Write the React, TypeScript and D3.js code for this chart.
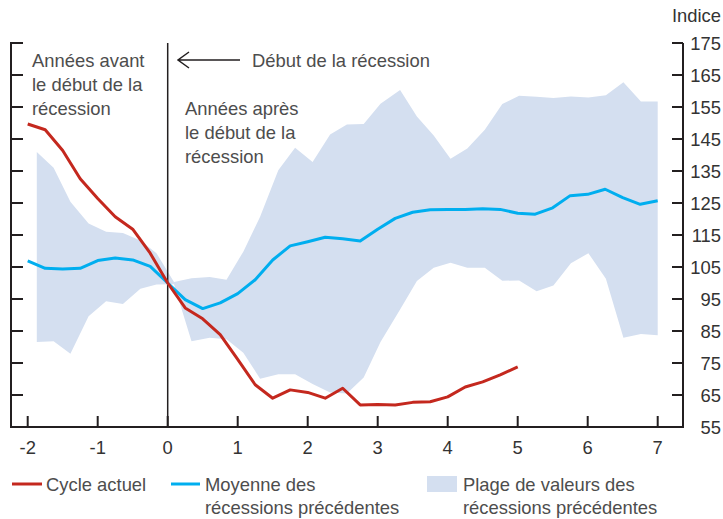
import * as d3 from 'd3';

// Quarterly observations, years relative to the start of the recession
const quarterX = d3.range(0, 37).map((i) => -2 + i * 0.25);

const currentCycle = [
  149.7, 147.9, 141.4, 132.6, 126.4, 120.7, 116.8, 109.3, 100,
  92.2, 88.8, 83.9, 76.1, 68.2, 64.0, 66.6, 65.8, 64.0, 67.1,
  61.9, 62.0, 61.9, 62.7, 62.9, 64.4, 67.5, 69.1, 71.3, 73.8,
];

const pastAverage = [
  106.9, 104.6, 104.4, 104.6, 107.0, 107.8, 107.2, 105.2, 100,
  94.8, 92.0, 93.8, 96.7, 101.0, 107.2, 111.6, 112.9, 114.3, 113.8,
  113.1, 116.8, 120.2, 122.1, 122.9, 123.0, 123.0, 123.2, 123.0, 121.8,
  121.5, 123.5, 127.3, 127.7, 129.3, 126.7, 124.6, 125.7,
];

const bandX = [
  -1.87, -1.63, -1.39, -1.13, -0.88, -0.64, -0.39, -0.16, 0.09,
  0.34, 0.6, 0.84, 1.08, 1.32, 1.58, 1.82, 2.07, 2.32, 2.56,
  2.8, 3.04, 3.32, 3.56, 3.8, 4.04, 4.28, 4.53, 4.78, 5.02,
  5.27, 5.51, 5.76, 6.01, 6.26, 6.51, 6.76, 7.0,
];
const bandHigh = [
  140.9, 136.0, 125.4, 118.6, 116.0, 115.6, 113.3, 109.3, 100.3,
  101.5, 101.9, 101.0, 109.8, 120.7, 135.2, 142.3, 137.8, 146.4, 149.5,
  149.7, 156.0, 160.3, 152.0, 146.1, 138.8, 142.0, 147.9, 155.9, 158.5,
  158.2, 157.8, 158.3, 158.0, 158.7, 162.7, 156.7, 156.7,
];
const bandLow = [
  81.6, 81.8, 77.9, 89.6, 94.3, 93.4, 98.2, 99.5, 99.6,
  81.8, 82.9, 82.4, 78.2, 70.1, 71.5, 71.5, 68.4, 65.8, 65.5,
  70.5, 81.6, 91.7, 100.6, 104.8, 106.3, 104.8, 104.8, 100.7, 100.8,
  97.4, 99.2, 106.2, 109.3, 101.3, 82.9, 84.1, 83.7,
];

const xTicks = [-2, -1, 0, 1, 2, 3, 4, 5, 6, 7];
const yTicks = [55, 65, 75, 85, 95, 105, 115, 125, 135, 145, 155, 165, 175];

const RED = '#c4281e';
const BLUE = '#00aeef';
const BAND = '#d4dff0';
const INK = '#231f20';
const TEXT = '#4d4d4d';
const FONT = '"Liberation Sans", Arial, sans-serif';

const W = 723;
const H = 519;
const FRAME = { left: 11, right: 683, top: 43, bottom: 427 };

export default function App() {
  const x = d3.scaleLinear().domain([-2, 7]).range([27.7, 657.7]);
  const y = d3.scaleLinear().domain([55, 175]).range([FRAME.bottom, FRAME.top]);

  const line = d3
    .line<number>()
    .x((_, i) => x(quarterX[i]))
    .y((d) => y(d));

  const area = d3
    .area<number>()
    .x((_, i) => x(bandX[i]))
    .y0((_, i) => y(bandLow[i]))
    .y1((d) => y(d));

  const textStyle = { fontFamily: FONT, fontSize: 18.4, fill: TEXT };

  return (
    <svg
      width={W}
      height={H}
      style={{ position: 'absolute', left: 0, top: 0, background: '#fff' }}
    >
      {/* range of past recessions */}
      <path d={area(bandHigh) ?? ''} fill={BAND} />

      {/* recession start marker */}
      <line x1={x(0)} x2={x(0)} y1={FRAME.top} y2={FRAME.bottom} stroke={INK} strokeWidth={1.5} />

      <path d={line(pastAverage) ?? ''} fill="none" stroke={BLUE} strokeWidth={3} strokeLinejoin="round" />
      <path d={line(currentCycle) ?? ''} fill="none" stroke={RED} strokeWidth={3} strokeLinejoin="round" />

      {/* frame: left axis, bottom axis, right axis */}
      <path
        d={`M${FRAME.left + 12},${FRAME.top}H${FRAME.left}V${FRAME.bottom}H${FRAME.right}V${FRAME.top}`}
        fill="none"
        stroke={INK}
        strokeWidth={2}
      />
      {yTicks.map((t) => (
        <g key={t}>
          <line x1={FRAME.left} x2={FRAME.left + 12} y1={y(t)} y2={y(t)} stroke={INK} strokeWidth={2} />
          <line x1={FRAME.right - 11} x2={FRAME.right} y1={y(t)} y2={y(t)} stroke={INK} strokeWidth={2} />
          <text x={721} y={y(t)} dy="0.36em" textAnchor="end" {...textStyle} fill="#333">
            {t}
          </text>
        </g>
      ))}
      {xTicks.map((t) => (
        <g key={t}>
          <line x1={x(t)} x2={x(t)} y1={FRAME.bottom} y2={FRAME.bottom - 11} stroke={INK} strokeWidth={2} />
          <text x={x(t)} y={447} dy="0.36em" textAnchor="middle" {...textStyle} fill="#333">
            {t}
          </text>
        </g>
      ))}
      <text x={721} y={15} dy="0.36em" textAnchor="end" {...textStyle} fill="#333">
        Indice
      </text>

      {/* annotations */}
      <text x={32} y={60} dy="0.36em" {...textStyle}>Années avant</text>
      <text x={32} y={84} dy="0.36em" {...textStyle}>le début de la</text>
      <text x={32} y={108} dy="0.36em" {...textStyle}>récession</text>

      <text x={185} y={108} dy="0.36em" {...textStyle}>Années après</text>
      <text x={185} y={132} dy="0.36em" {...textStyle}>le début de la</text>
      <text x={185} y={156} dy="0.36em" {...textStyle}>récession</text>

      <path d="M178,60H240M189,52L178,60L189,68" fill="none" stroke={INK} strokeWidth={1.5} />
      <text x={252} y={60} dy="0.36em" {...textStyle}>Début de la récession</text>

      {/* legend */}
      <line x1={12} x2={42} y1={484} y2={484} stroke={RED} strokeWidth={3} />
      <text x={46} y={484} dy="0.36em" {...textStyle}>Cycle actuel</text>

      <line x1={171} x2={200} y1={484} y2={484} stroke={BLUE} strokeWidth={3} />
      <text x={205} y={484} dy="0.36em" {...textStyle}>Moyenne des</text>
      <text x={205} y={507} dy="0.36em" {...textStyle}>récessions précédentes</text>

      <rect x={427} y={476} width={30} height={16} fill={BAND} />
      <text x={463} y={484} dy="0.36em" {...textStyle}>Plage de valeurs des</text>
      <text x={463} y={507} dy="0.36em" {...textStyle}>récessions précédentes</text>
    </svg>
  );
}
